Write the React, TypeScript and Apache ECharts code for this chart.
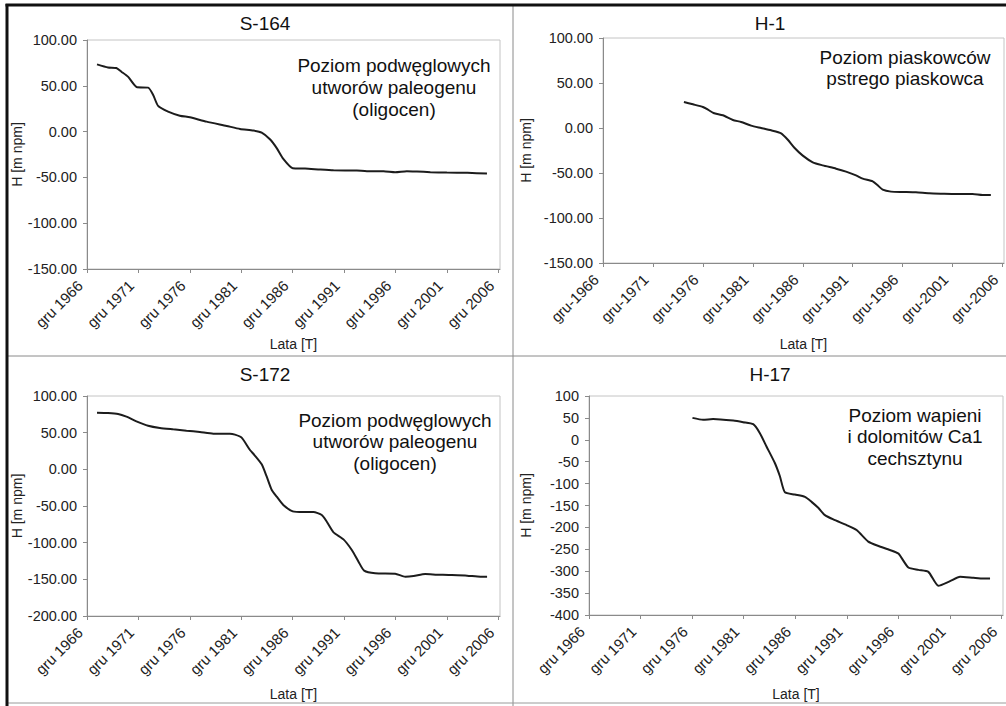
import React, { useEffect, useRef } from "react";
import * as echarts from "echarts";

const FONT = "'Liberation Sans', Arial, sans-serif";
const BASE_YEAR = 1966 + 11 / 12; // "gru 1966" = December 1966

// Panel titles and annotations
const TITLES = ["S-164", "H-1", "S-172", "H-17"];
const NOTES = [
  ["Poziom podwęglowych", "utworów paleogenu", "(oligocen)"],
  ["Poziom piaskowców", "pstrego piaskowca"],
  ["Poziom podwęglowych", "utworów paleogenu", "(oligocen)"],
  ["Poziom wapieni", "i dolomitów Ca1", "cechsztynu"],
];
const TICK_SEP = [" ", "-", " ", " "];
const Y_MIN = [-150, -150, -200, -400];
const Y_MAX = [100, 100, 100, 100];
const Y_DECIMALS = [2, 2, 2, 0];

// S-164
const S164_YEARS = [1967.89, 1968.96, 1969.77, 1970.26, 1970.9, 1971.79, 1972.86, 1973.35, 1973.83, 1974.8, 1975.94, 1976.92, 1978.54, 1980.49, 1981.79, 1983.09, 1983.9, 1984.7, 1985.36, 1986.0, 1986.92, 1988.12, 1989.58, 1990.88, 1993.15, 1994.12, 1995.75, 1996.88, 1998.0, 1999.0, 2000.3, 2001.9, 2003.9, 2005.8];
const S164_H = [73.4, 70, 69.4, 65.4, 60, 48.3, 48, 40, 28, 21.8, 17.4, 15.6, 10.9, 6.2, 2.9, 1.1, -1.1, -8.4, -18, -29.8, -40, -40.3, -41.4, -42.2, -42.5, -43.2, -43.2, -44.3, -43.2, -43.6, -44.3, -44.7, -45, -45.8];

// H-1
const H1_YEARS = [1975.02, 1975.92, 1976.92, 1977.42, 1977.98, 1978.92, 1979.92, 1980.75, 1981.75, 1982.75, 1983.75, 1984.75, 1985.42, 1986.08, 1986.92, 1987.92, 1988.92, 1990.25, 1991.25, 1992.25, 1992.92, 1993.92, 1994.42, 1994.92, 1995.75, 1996.92, 1998.25, 1999.58, 2000.92, 2002.25, 2003.92, 2004.92, 2005.75];
const H1_H = [28.9, 26.3, 23.3, 20.4, 16.7, 14.1, 8.9, 6.7, 2.6, 0, -2.6, -5.9, -13, -21.9, -30.7, -38.1, -41.5, -45.2, -48.5, -52.6, -56.3, -59.3, -63.7, -68.5, -70.7, -71.1, -71.5, -72.6, -73, -73.3, -73.3, -74.4, -74.4];

// S-172
const S172_YEARS = [1967.89, 1968.96, 1969.94, 1970.75, 1971.72, 1972.86, 1974.0, 1975.29, 1976.59, 1977.89, 1979.19, 1980.81, 1981.3, 1981.95, 1982.76, 1983.19, 1983.9, 1984.39, 1984.88, 1985.36, 1986.0, 1986.92, 1987.95, 1988.93, 1989.74, 1990.23, 1990.88, 1991.85, 1992.66, 1993.31, 1993.86, 1994.93, 1996.88, 1997.86, 1998.67, 1999.8, 2000.94, 2002.08, 2003.87, 2005.17, 2005.81];
const S172_H = [77.3, 76.8, 75.5, 71.8, 65.5, 59.5, 56.4, 54.5, 52.7, 50.9, 48.6, 48.6, 47.3, 43.2, 26.4, 19.5, 6.8, -10, -28.2, -37.3, -48.6, -57.3, -58.2, -58.2, -62.3, -71.4, -85.9, -95.5, -110, -125.9, -138.2, -141.8, -142.3, -146.4, -145.5, -142.7, -143.6, -144.1, -145, -146.4, -146.4];

// H-17
const H17_YEARS = [1976.95, 1977.98, 1978.95, 1980.9, 1981.87, 1982.84, 1983.49, 1984.13, 1984.94, 1985.43, 1985.91, 1986.88, 1987.86, 1988.5, 1989.15, 1989.8, 1990.61, 1991.9, 1992.87, 1994.0, 1994.98, 1996.1, 1996.92, 1997.89, 1998.86, 1999.83, 2000.8, 2001.93, 2002.9, 2004.2, 2005.17, 2005.81];
const H17_H = [50, 45.5, 47.7, 43.9, 40.2, 35.6, 15.2, -15.2, -53, -83.3, -119.7, -125, -130.3, -141.7, -155.3, -172, -181.8, -194.7, -206, -232.6, -242.4, -251.5, -259.8, -291.7, -297, -301.5, -333.3, -322.7, -312.9, -315.2, -316.7, -316.7];

const SERIES_YEARS = [S164_YEARS, H1_YEARS, S172_YEARS, H17_YEARS];
const SERIES_H = [S164_H, H1_H, S172_H, H17_H];

// layout (pixels)
const GRIDS = [
  { left: 87, top: 40, width: 413, height: 229 },
  { left: 603, top: 38, width: 401, height: 225 },
  { left: 87, top: 396, width: 413, height: 220 },
  { left: 589, top: 396, width: 414, height: 219 },
];
const TITLE_POS = [
  [260, 9],
  [765, 9],
  [260, 360],
  [765, 360],
];
const NOTE_POS = [
  [394, 65],
  [905, 57],
  [395, 420],
  [915, 415],
];
const NOTE_LH = [22, 21, 21.5, 21.5];
const Y_NAME_GAP = [58, 70, 60, 56];
const X_NAME_GAP = [68, 74, 71, 72];

export default function App() {
  const ref = useRef<HTMLDivElement>(null);
  useEffect(() => {
    if (!ref.current) return;
    const chart = echarts.init(ref.current, null, { renderer: "svg" });
    const axisColor = "#8a8a8a";
    const textColor = "#222";

    const xAxis = GRIDS.map((_, i) => ({
      type: "value",
      gridIndex: i,
      min: 0,
      max: 40.15,
      interval: 5,
      axisLine: { show: true, onZero: false, lineStyle: { color: axisColor, width: 1 } },
      axisTick: { show: true, length: 4, lineStyle: { color: axisColor } },
      splitLine: { show: false },
      axisLabel: {
        rotate: 45,
        margin: 7,
        padding: [0, 10, 0, 0],
        fontSize: 15,
        color: textColor,
        fontFamily: FONT,
        showMaxLabel: false,
        formatter: (v: number) =>
          Math.abs(v % 5) < 1e-6 ? "gru" + TICK_SEP[i] + Math.round(1966 + v) : "",
      },
      name: "Lata [T]",
      nameLocation: "middle",
      nameGap: X_NAME_GAP[i],
      nameTextStyle: { fontSize: 14, color: textColor, fontFamily: FONT },
    }));

    const yAxis = GRIDS.map((_, i) => ({
      type: "value",
      gridIndex: i,
      min: Y_MIN[i],
      max: Y_MAX[i],
      interval: 50,
      axisLine: { show: true, onZero: false, lineStyle: { color: axisColor, width: 1 } },
      axisTick: { show: true, length: 4, lineStyle: { color: axisColor } },
      splitLine: { show: false },
      axisLabel: {
        margin: 10,
        fontSize: 14.5,
        color: textColor,
        fontFamily: FONT,
        formatter: (v: number) => v.toFixed(Y_DECIMALS[i]),
      },
      name: "H [m npm]",
      nameLocation: "middle",
      nameRotate: 90,
      nameGap: Y_NAME_GAP[i],
      nameTextStyle: { fontSize: 14, color: textColor, fontFamily: FONT },
    }));

    const series = SERIES_YEARS.map((years, i) => ({
      type: "line",
      xAxisIndex: i,
      yAxisIndex: i,
      data: years.map((y, k) => [y - BASE_YEAR, SERIES_H[i][k]]),
      showSymbol: false,
      smooth: 0.2,
      lineStyle: { color: "#1c1c1c", width: 2 },
      itemStyle: { color: "#1c1c1c" },
    }));

    const title = TITLES.map((t, i) => ({
      text: t,
      left: TITLE_POS[i][0],
      top: TITLE_POS[i][1],
      textAlign: "center",
      textStyle: { fontSize: 19, fontWeight: "normal", color: "#111", fontFamily: FONT },
    }));

    const notes = NOTES.map((lines, i) => ({
      type: "text",
      x: NOTE_POS[i][0],
      y: NOTE_POS[i][1] - NOTE_LH[i] / 2,
      style: {
        text: lines.join("\n"),
        align: "center",
        verticalAlign: "top",
        font: `19px ${FONT}`,
        lineHeight: NOTE_LH[i],
        fill: "#111",
      },
    }));

    const frame = [
      { type: "line", shape: { x1: 513, y1: 5, x2: 513, y2: 706 }, style: { stroke: "#8a8a8a", lineWidth: 1 } },
      { type: "line", shape: { x1: 7, y1: 356, x2: 1006, y2: 356 }, style: { stroke: "#8a8a8a", lineWidth: 1 } },
      { type: "line", shape: { x1: 7, y1: 703, x2: 1006, y2: 703 }, style: { stroke: "#9a9a9a", lineWidth: 1 } },
      { type: "line", shape: { x1: 5.5, y1: 5, x2: 1006, y2: 5 }, style: { stroke: "#111", lineWidth: 3 } },
      { type: "line", shape: { x1: 7, y1: 4, x2: 7, y2: 706 }, style: { stroke: "#111", lineWidth: 3 } },
    ];

    chart.setOption({
      animation: false,
      backgroundColor: "#fff",
      textStyle: { fontFamily: FONT },
      title,
      grid: GRIDS.map((g) => ({
        ...g,
        show: true,
        borderColor: "#c4c4c4",
        borderWidth: 1,
        backgroundColor: "transparent",
        containLabel: false,
      })),
      xAxis,
      yAxis,
      series,
      graphic: [...frame, ...notes],
    });
    return () => chart.dispose();
  }, []);
  return (
    <div
      ref={ref}
      style={{ position: "absolute", left: 0, top: 0, width: 1006, height: 706, background: "#fff" }}
    />
  );
}
